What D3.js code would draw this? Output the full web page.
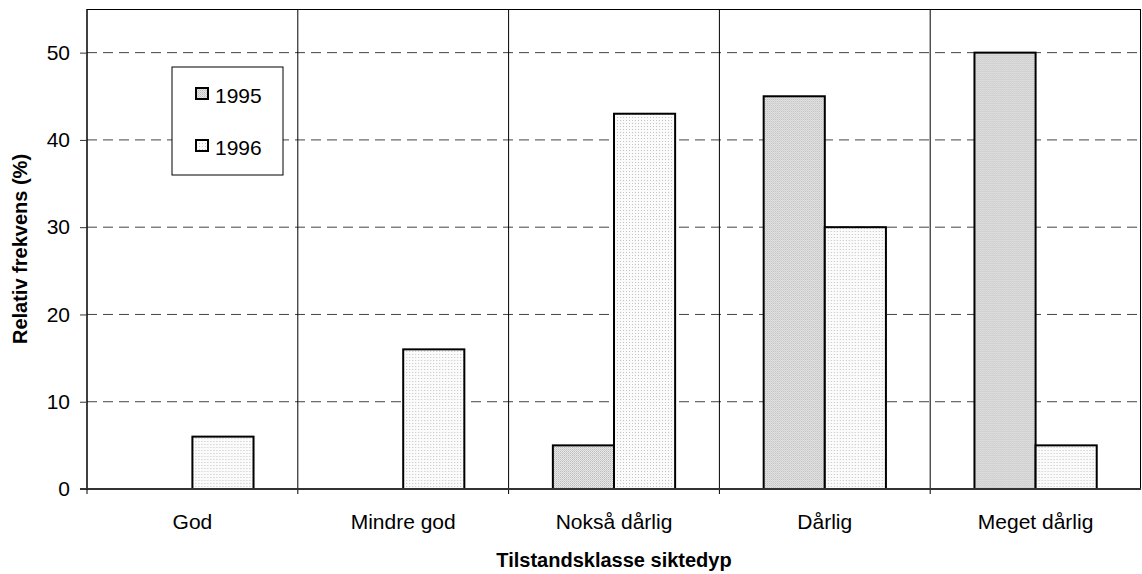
<!DOCTYPE html>
<html>
<head>
<meta charset="utf-8">
<script src="https://cdn.jsdelivr.net/npm/d3@7"></script>
<style>
  body { margin: 0; background: #fff; }
  svg { display: block; font-family: "Liberation Sans", Arial, sans-serif; }
</style>
</head>
<body>
<div id="chart"></div>
<script>
const categories = ['God', 'Mindre god', 'Nokså dårlig', 'Dårlig', 'Meget dårlig'];
const seriesNames = ['1995', '1996'];
const values1995 = [0, 0, 5, 45, 50];
const values1996 = [6, 16, 43, 30, 5];
const yTicks = [0, 10, 20, 30, 40, 50];

const W = 1142, H = 574;
const margin = { top: 9, right: 1, bottom: 85, left: 87 };
const width = W - margin.left - margin.right;
const height = H - margin.top - margin.bottom;

const svg = d3.select('#chart').append('svg')
    .attr('width', W)
    .attr('height', H);

const defs = svg.append('defs');
// dotted fills like the old spreadsheet patterns
const p1 = defs.append('pattern').attr('id', 'pat1995')
    .attr('width', 2).attr('height', 2).attr('patternUnits', 'userSpaceOnUse');
p1.append('rect').attr('width', 2).attr('height', 2).attr('fill', '#e6e6e6');
p1.append('rect').attr('width', 1).attr('height', 1).attr('fill', '#bdbdbd');
p1.append('rect').attr('x', 1).attr('y', 1).attr('width', 1).attr('height', 1).attr('fill', '#cfcfcf');

const p2 = defs.append('pattern').attr('id', 'pat1996')
    .attr('width', 3).attr('height', 3).attr('patternUnits', 'userSpaceOnUse');
p2.append('rect').attr('width', 3).attr('height', 3).attr('fill', '#fbfbfb');
p2.append('rect').attr('width', 1).attr('height', 1).attr('fill', '#c4c4c4');

const fills = ['url(#pat1995)', 'url(#pat1996)'];

const g = svg.append('g')
    .attr('transform', `translate(${margin.left},${margin.top})`);

const x = d3.scaleBand()
    .domain(categories)
    .range([0, width]);

const y = d3.scaleLinear()
    .domain([0, 55])
    .range([height, 0]);

const barW = x.bandwidth() * 0.29;

// horizontal dashed grid
g.append('g')
    .selectAll('line')
    .data(yTicks.filter(d => d > 0))
    .join('line')
    .attr('x1', 0).attr('x2', width)
    .attr('y1', d => y(d)).attr('y2', d => y(d))
    .attr('stroke', '#444')
    .attr('stroke-width', 1)
    .attr('stroke-dasharray', '10,6');

// category dividers
g.append('g')
    .selectAll('line')
    .data(categories.slice(1))
    .join('line')
    .attr('x1', d => x(d)).attr('x2', d => x(d))
    .attr('y1', 0).attr('y2', height + 5)
    .attr('stroke', '#000')
    .attr('stroke-width', 1);

// frame
g.append('line').attr('x1', 0).attr('x2', width).attr('y1', 0.5).attr('y2', 0.5)
    .attr('stroke', '#000');
g.append('line').attr('x1', width - 0.5).attr('x2', width - 0.5).attr('y1', 0).attr('y2', height)
    .attr('stroke', '#000');

// bars
const rows = categories.map((c, i) => ({ cat: c, vals: [values1995[i], values1996[i]] }));
const groups = g.selectAll('.cat')
    .data(rows)
    .join('g')
    .attr('transform', d => `translate(${x(d.cat) + x.bandwidth() / 2},0)`);

groups.selectAll('rect')
    .data(d => d.vals.map((v, k) => ({ v, k })).filter(e => e.v > 0))
    .join('rect')
    .attr('x', d => d.k === 0 ? -barW : 0)
    .attr('y', d => y(d.v))
    .attr('width', barW)
    .attr('height', d => y(0) - y(d.v))
    .attr('fill', d => fills[d.k])
    .attr('stroke', '#000')
    .attr('stroke-width', 2);

// y axis
const yAxis = g.append('g')
    .call(d3.axisLeft(y).tickValues(yTicks).tickSize(7).tickPadding(10));
yAxis.select('.domain').attr('d', `M0,0V${height}`).attr('stroke', '#000').attr('stroke-width', 1.5);
yAxis.selectAll('.tick line').attr('stroke', '#333');
yAxis.selectAll('.tick text')
    .style('font-size', '21px')
    .style('font-family', '"Liberation Sans", Arial, sans-serif')
    .attr('fill', '#000');

// x axis line
g.append('line')
    .attr('x1', -7).attr('x2', width)
    .attr('y1', height).attr('y2', height)
    .attr('stroke', '#333').attr('stroke-width', 2);
g.append('line')
    .attr('x1', 0).attr('x2', 0)
    .attr('y1', height).attr('y2', height + 5)
    .attr('stroke', '#000');

// category labels
g.append('g')
    .selectAll('text')
    .data(categories)
    .join('text')
    .attr('x', d => x(d) + x.bandwidth() / 2)
    .attr('y', height + 40)
    .attr('text-anchor', 'middle')
    .style('font-size', '21px')
    .text(d => d);

// axis titles
svg.append('text')
    .attr('x', margin.left + width / 2)
    .attr('y', 567)
    .attr('text-anchor', 'middle')
    .style('font-size', '20px')
    .style('font-weight', 'bold')
    .text('Tilstandsklasse siktedyp');

svg.append('text')
    .attr('transform', `translate(27,${margin.top + height / 2}) rotate(-90)`)
    .attr('text-anchor', 'middle')
    .style('font-size', '20px')
    .style('font-weight', 'bold')
    .text('Relativ frekvens (%)');

// legend
const legend = svg.append('g').attr('transform', 'translate(172,67)');
legend.append('rect')
    .attr('width', 111).attr('height', 108)
    .attr('fill', '#fff')
    .attr('stroke', '#000').attr('stroke-width', 1);

const li = legend.selectAll('.li')
    .data(seriesNames)
    .join('g')
    .attr('transform', (d, i) => `translate(24,${21 + i * 52})`);
li.append('rect')
    .attr('width', 12).attr('height', 11)
    .attr('fill', (d, i) => fills[i])
    .attr('stroke', '#000').attr('stroke-width', 2);
li.append('text')
    .attr('x', 19)
    .attr('y', 15)
    .style('font-size', '21px')
    .text(d => d);
</script>
</body>
</html>
